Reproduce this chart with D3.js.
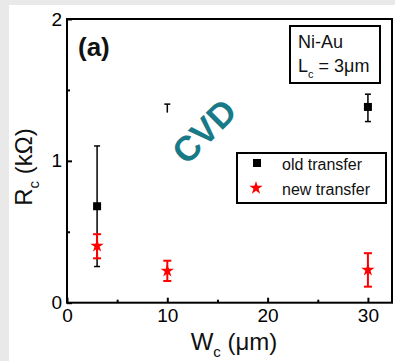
<!DOCTYPE html>
<html lang="en">
<head>
<meta charset="UTF-8">
<title>Rc vs Wc</title>
<script src="https://d3js.org/d3.v7.min.js"></script>
<style>
    body { margin: 0; background: #e9e9e9; }
    svg { display: block; font-family: "Liberation Sans", Arial, sans-serif; }
</style>
</head>
<body>
<svg id="canvas" width="395" height="361"></svg>
<script>
    // data
    let widths = [3, 10, 30];
    let oldVal = [0.68, null, 1.38];
    let oldHi = [1.105, 1.40, 1.47];
    let oldLo = [0.255, 1.34, 1.277];
    let newVal = [0.40, 0.224, 0.231];
    let newHi = [0.483, 0.296, 0.349];
    let newLo = [0.313, 0.153, 0.113];
    let xTicks = [0, 10, 20, 30];
    let xMinor = [5, 15, 25];
    let yTicks = [0, 1, 2];
    let yMinor = [0.5, 1.5];

    let svg = d3.select('#canvas');
    svg.append('rect').attr('x', 9).attr('y', 5).attr('width', 386).attr('height', 356).attr('fill', 'white');

    let x = d3.scaleLinear().domain([0, 32.4]).range([67, 392]);
    let y = d3.scaleLinear().domain([0, 2]).range([302.7, 19]);

    // axes (ticks point inward)
    svg.append('g').attr('transform', 'translate(0,302.7)')
        .call(d3.axisBottom(x).tickValues(xTicks).tickSizeInner(-5).tickSizeOuter(0).tickPadding(6).tickFormat(d3.format('d')));
    svg.append('g').attr('transform', 'translate(0,302.7)')
        .call(d3.axisBottom(x).tickValues(xMinor).tickSizeInner(-3).tickSizeOuter(0).tickFormat(''));
    svg.append('g').attr('transform', 'translate(67,0)')
        .call(d3.axisLeft(y).tickValues(yTicks).tickSizeInner(-5).tickSizeOuter(0).tickPadding(5).tickFormat(d3.format('d')));
    svg.append('g').attr('transform', 'translate(67,0)')
        .call(d3.axisLeft(y).tickValues(yMinor).tickSizeInner(-3).tickSizeOuter(0).tickFormat(''));
    svg.selectAll('.domain').remove();
    svg.selectAll('.tick line').attr('stroke', 'black').attr('stroke-width', 2);
    svg.selectAll('.tick text').attr('font-size', 19).attr('fill', 'black')
        .attr('font-family', '"Liberation Sans", Arial, sans-serif');

    // frame
    svg.append('rect').attr('x', x(0)).attr('y', y(2))
        .attr('width', x(32.4) - x(0)).attr('height', y(0) - y(2))
        .attr('fill', 'none').attr('stroke', 'black').attr('stroke-width', 2);

    // axis titles
    let xt = svg.append('text').attr('x', 234).attr('y', 350).attr('text-anchor', 'middle')
        .attr('font-size', 24).attr('fill', '#111');
    xt.append('tspan').text('W');
    xt.append('tspan').attr('font-size', 15).attr('dy', 7).text('c');
    xt.append('tspan').attr('dy', -7).text(' (\u03bcm)');

    let yt = svg.append('text').attr('transform', 'translate(32,167) rotate(-90)')
        .attr('text-anchor', 'middle').attr('font-size', 24).attr('fill', '#111');
    yt.append('tspan').text('R');
    yt.append('tspan').attr('font-size', 15).attr('dy', 7).text('c');
    yt.append('tspan').attr('dy', -7).text(' (k\u03a9)');

    svg.append('text').attr('x', 78).attr('y', 56).attr('font-size', 26)
        .attr('font-weight', 'bold').attr('fill', '#111').text('(a)');

    // CVD stamp
    svg.append('text').attr('transform', 'translate(204,131) rotate(-45)')
        .attr('text-anchor', 'middle').attr('dominant-baseline', 'central')
        .attr('font-size', 35).attr('font-weight', 'bold').attr('fill', '#197a87').text('CVD');

    // old transfer error bars + squares
    let oldG = svg.append('g');
    widths.forEach(function (w, i) {
        let cx = x(w);
        oldG.append('line').attr('x1', cx).attr('x2', cx).attr('y1', y(oldHi[i])).attr('y2', y(oldLo[i]))
            .attr('stroke', 'black').attr('stroke-width', 1.5);
        oldG.append('line').attr('x1', cx - 3).attr('x2', cx + 3).attr('y1', y(oldHi[i])).attr('y2', y(oldHi[i]))
            .attr('stroke', 'black').attr('stroke-width', 1.5);
        if (oldVal[i] !== null) {
            oldG.append('line').attr('x1', cx - 3).attr('x2', cx + 3).attr('y1', y(oldLo[i])).attr('y2', y(oldLo[i]))
                .attr('stroke', 'black').attr('stroke-width', 1.5);
            oldG.append('rect').attr('x', cx - 4).attr('y', y(oldVal[i]) - 4)
                .attr('width', 8).attr('height', 8).attr('fill', 'black');
        }
    });

    // new transfer error bars + stars
    let star = d3.symbol().type(d3.symbolStar).size(55);
    let newG = svg.append('g');
    widths.forEach(function (w, i) {
        let cx = x(w);
        newG.append('line').attr('x1', cx).attr('x2', cx).attr('y1', y(newHi[i])).attr('y2', y(newLo[i]))
            .attr('stroke', 'red').attr('stroke-width', 2);
        [newHi[i], newLo[i]].forEach(function (v) {
            newG.append('line').attr('x1', cx - 4).attr('x2', cx + 4).attr('y1', y(v)).attr('y2', y(v))
                .attr('stroke', 'red').attr('stroke-width', 2);
        });
        newG.append('path').attr('d', star).attr('transform', `translate(${cx},${y(newVal[i])})`)
            .attr('fill', 'red');
    });

    // Ni-Au box
    svg.append('rect').attr('x', 290).attr('y', 26).attr('width', 90).attr('height', 57)
        .attr('fill', 'white').attr('stroke', 'black').attr('stroke-width', 2);
    svg.append('text').attr('x', 298).attr('y', 48).attr('font-size', 18).attr('fill', '#111').text('Ni-Au');
    let lc = svg.append('text').attr('x', 298).attr('y', 72).attr('font-size', 18).attr('fill', '#111');
    lc.append('tspan').text('L');
    lc.append('tspan').attr('font-size', 11).attr('dy', 6).text('c');
    lc.append('tspan').attr('dy', -6).text(' = 3\u03bcm');

    // legend
    svg.append('rect').attr('x', 237).attr('y', 153).attr('width', 149).attr('height', 50)
        .attr('fill', 'white').attr('stroke', 'black').attr('stroke-width', 2);
    svg.append('rect').attr('x', 253).attr('y', 159).attr('width', 8).attr('height', 8).attr('fill', 'black');
    svg.append('path').attr('d', star).attr('transform', 'translate(256,188)').attr('fill', 'red');
    svg.append('text').attr('x', 282).attr('y', 170).attr('font-size', 16).attr('fill', '#111').text('old transfer');
    svg.append('text').attr('x', 282).attr('y', 195).attr('font-size', 16).attr('fill', '#111').text('new transfer');
</script>
</body>
</html>
